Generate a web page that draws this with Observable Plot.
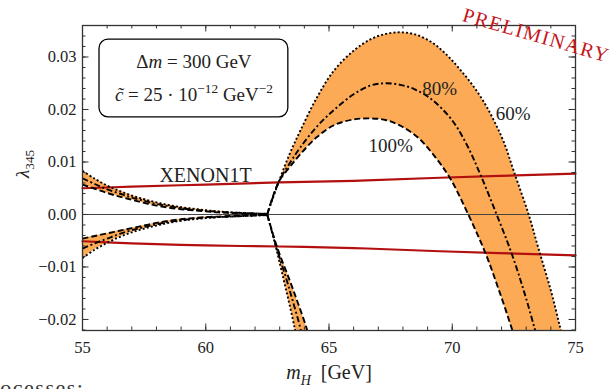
<!DOCTYPE html>
<html>
<head>
<meta charset="utf-8">
<script src="https://cdn.jsdelivr.net/npm/d3@7"></script>
<script src="https://cdn.jsdelivr.net/npm/@observablehq/plot@0.6"></script>
<style>
  html, body { margin: 0; padding: 0; background: #fff; overflow: hidden; width: 615px; height: 389px; }
  #wrap { position: relative; width: 615px; height: 389px; overflow: hidden; }
  #wrap svg { display: block; }
  #wrap svg text { font-family: "Liberation Serif", "Times New Roman", serif; }
  #note { position: absolute; left: -21px; top: 377px; font: 22px/1 "Liberation Serif", "Times New Roman", serif; letter-spacing: 1.5px; color: #333; white-space: nowrap; }
</style>
</head>
<body>
<div id="wrap"><div id="note">processes:</div></div>
<script>
// Left branches (m_H below m_h/2): shared mass grid, upper (+) and lower (−) solutions
const xLeft    = [55, 55.5, 56, 56.5, 57, 57.5, 58, 58.5, 59, 59.5, 60, 60.5, 61, 61.5, 62, 62.5];
const upper60  = [0.0083, 0.0068, 0.0055, 0.0045, 0.0036, 0.0029, 0.0023, 0.0018, 0.0014, 0.0011, 0.0008, 0.0006, 0.0004, 0.0003, 0.0002, 0.0001];
const upper80  = [0.0069, 0.0058, 0.0048, 0.0040, 0.0032, 0.0026, 0.0020, 0.0016, 0.0012, 0.0009, 0.0007, 0.0005, 0.0004, 0.0003, 0.0002, 0.0001];
const upper100 = [0.0057, 0.0049, 0.0041, 0.0034, 0.0028, 0.0022, 0.0017, 0.0013, 0.0010, 0.0008, 0.0006, 0.0004, 0.0003, 0.0002, 0.0001, 0.0001];
const lower60  = [-0.0083, -0.0067, -0.0054, -0.0043, -0.0034, -0.0027, -0.0021, -0.0016, -0.0012, -0.0009, -0.0007, -0.0005, -0.0004, -0.0003, -0.0002, -0.0001];
const lower80  = [-0.0065, -0.0055, -0.0046, -0.0037, -0.0030, -0.0024, -0.0019, -0.0014, -0.0011, -0.0008, -0.0006, -0.0005, -0.0004, -0.0003, -0.0002, -0.0001];
const lower100 = [-0.0046, -0.0041, -0.0036, -0.0031, -0.0026, -0.0021, -0.0016, -0.0012, -0.0009, -0.0007, -0.0005, -0.0004, -0.0003, -0.0002, -0.0001, -0.0001];

// Rising branch above m_h/2
const hump60X  = [62.5, 62.96, 63.4, 63.84, 64.5, 65.2, 66.0, 66.7, 67.3, 67.9, 68.5, 69.2, 69.8, 70.3, 70.8, 71.3, 71.7, 72.1, 72.5, 73.1, 73.5, 74.0, 74.35, 74.6];
const hump60Y  = [0.0001, 0.0062, 0.0115, 0.0160, 0.0222, 0.0274, 0.0312, 0.0334, 0.0344, 0.0347, 0.0343, 0.0327, 0.0303, 0.0277, 0.0248, 0.0213, 0.0178, 0.0137, 0.0082, 0.0000, -0.0065, -0.0145, -0.0210, -0.0258];
const hump80X  = [62.5, 62.96, 63.4, 63.84, 64.5, 65.2, 66.0, 66.7, 67.3, 67.9, 68.5, 69.2, 70.0, 70.6, 71.15, 71.8, 72.4, 72.9, 73.3, 73.5];
const hump80Y  = [0.0001, 0.0062, 0.0097, 0.0128, 0.0167, 0.0199, 0.0229, 0.0246, 0.0250, 0.0247, 0.0238, 0.0218, 0.0179, 0.0132, 0.0075, 0.0000, -0.0073, -0.0145, -0.0210, -0.0245];
const hump100X = [62.5, 62.96, 63.4, 63.84, 64.5, 65.2, 66.0, 66.7, 67.3, 67.9, 68.6, 69.25, 69.9, 70.65, 71.35, 71.9, 72.4, 72.6];
const hump100Y = [0.0001, 0.0062, 0.0090, 0.0115, 0.0147, 0.0170, 0.0181, 0.0183, 0.0180, 0.0169, 0.0147, 0.0113, 0.0070, 0.0000, -0.0074, -0.0145, -0.0215, -0.0245];

// Falling branch above m_h/2
const drop60X  = [62.5, 62.85, 63.17, 63.4, 63.6, 63.72];
const drop60Y  = [-0.0001, -0.0063, -0.0126, -0.0172, -0.0215, -0.0245];
const drop80X  = [62.5, 62.87, 63.29, 63.55, 63.83, 63.95];
const drop80Y  = [-0.0001, -0.0063, -0.0126, -0.0168, -0.0215, -0.0240];
const drop100X = [62.5, 62.9, 63.41, 63.75, 64.08, 64.22];
const drop100Y = [-0.0001, -0.0063, -0.0126, -0.0170, -0.0215, -0.0240];

// XENON1T direct-detection bounds
const xenonX     = [55, 57, 60, 63, 66, 69.5, 75];
const xenonUpper = [0.0050, 0.0053, 0.0057, 0.0061, 0.0064, 0.0070, 0.0078];
const xenonLower = [-0.0051, -0.0055, -0.0059, -0.0061, -0.0064, -0.0070, -0.0078];

// Axes
const xTicks = [55, 60, 65, 70, 75];
const yTicks = [-0.02, -0.01, 0, 0.01, 0.02, 0.03];
const xDomain = [55, 75];
const yDomain = [-0.0221, 0.036];

const serif = '"Liberation Serif", "Times New Roman", serif';
const band = "#fcaa56";
const xenon = "#b30f0f";
const ink = "#222";

const xMinor = d3.range(55, 75.01, 1);
const yMinor = d3.range(-22, 37, 2).map(v => v / 1000);

// Filled polygon: first curve forward, second curve back
const ring = (ax, ay, bx, by) => [
  ...ax.map((x, i) => ({x, y: ay[i]})),
  ...bx.map((x, i) => ({x, y: by[i]})).reverse()
];

const curves = [
  {dash: "2,2.2", left: [upper60, lower60], hump: [hump60X, hump60Y], drop: [drop60X, drop60Y]},
  {dash: "6,2.6,2,2.6", left: [upper80, lower80], hump: [hump80X, hump80Y], drop: [drop80X, drop80Y]},
  {dash: "6,3", left: [upper100, lower100], hump: [hump100X, hump100Y], drop: [drop100X, drop100Y]}
];

const curveMarks = curves.flatMap(c => {
  const o = {stroke: "black", strokeWidth: 1.9, strokeDasharray: c.dash, strokeLinecap: "butt", curve: "catmull-rom", clip: true};
  return [
    Plot.line(xLeft, {x: xLeft, y: c.left[0], ...o}),
    Plot.line(xLeft, {x: xLeft, y: c.left[1], ...o}),
    Plot.line(c.hump[0], {x: c.hump[0], y: c.hump[1], ...o}),
    Plot.line(c.drop[0], {x: c.drop[0], y: c.drop[1], ...o})
  ];
});

const tick = {stroke: "#333", strokeWidth: 1};

const chart = Plot.plot({
  width: 615,
  height: 389,
  marginLeft: 82,
  marginRight: 40,
  marginTop: 25,
  marginBottom: 59,
  x: {domain: xDomain},
  y: {domain: yDomain},
  style: {fontFamily: serif, fontSize: "16px", color: ink, background: "white", overflow: "visible"},
  marks: [
    // shaded bands between the 60% and 100% curves
    Plot.areaY(xLeft, {x: xLeft, y1: upper60, y2: upper100, fill: band, curve: "catmull-rom", clip: true}),
    Plot.areaY(xLeft, {x: xLeft, y1: lower60, y2: lower100, fill: band, curve: "catmull-rom", clip: true}),
    Plot.line(ring(hump60X, hump60Y, hump100X, hump100Y), {x: "x", y: "y", fill: band, stroke: "none", curve: "catmull-rom", clip: true}),
    Plot.line(ring(drop60X, drop60Y, drop100X, drop100Y), {x: "x", y: "y", fill: band, stroke: "none", curve: "catmull-rom", clip: true}),
    Plot.ruleY([0], {stroke: "#444", strokeWidth: 1}),
    Plot.line(xenonX, {x: xenonX, y: xenonUpper, stroke: xenon, strokeWidth: 2.2, curve: "catmull-rom"}),
    Plot.line(xenonX, {x: xenonX, y: xenonLower, stroke: xenon, strokeWidth: 2.2, curve: "catmull-rom"}),
    ...curveMarks,
    // inward ticks on all four sides
    Plot.ruleX(xMinor, {x: d => d, y1: yDomain[0], y2: yDomain[0], insetBottom: 3.5, ...tick}),
    Plot.ruleX(xTicks, {x: d => d, y1: yDomain[0], y2: yDomain[0], insetBottom: 6.5, ...tick}),
    Plot.ruleX(xMinor, {x: d => d, y1: yDomain[1], y2: yDomain[1], insetTop: 3.5, ...tick}),
    Plot.ruleX(xTicks, {x: d => d, y1: yDomain[1], y2: yDomain[1], insetTop: 6.5, ...tick}),
    Plot.ruleY(yMinor, {y: d => d, x1: xDomain[0], x2: xDomain[0], insetLeft: 3.5, ...tick}),
    Plot.ruleY(yTicks, {y: d => d, x1: xDomain[0], x2: xDomain[0], insetLeft: 6.5, ...tick}),
    Plot.ruleY(yMinor, {y: d => d, x1: xDomain[1], x2: xDomain[1], insetRight: 3.5, ...tick}),
    Plot.ruleY(yTicks, {y: d => d, x1: xDomain[1], x2: xDomain[1], insetRight: 6.5, ...tick}),
    Plot.frame({stroke: "#333", strokeWidth: 1.3}),
    Plot.axisX({ticks: xTicks, tickSize: 0, tickPadding: 11, tickFormat: d => String(d), label: null, fontSize: 16.5}),
    Plot.axisY({ticks: yTicks, tickSize: 0, tickPadding: 6, tickFormat: d3.format(".2f"), label: null, fontSize: 16.5}),
    // axis titles
    Plot.text(["λ345"], {frameAnchor: "left", dx: -60, rotate: -90, fontSize: 19}),
    Plot.text(["mH [GeV]"], {frameAnchor: "bottom", dy: 48, fontSize: 20}),
    // parameter box
    Plot.rect([0], {x1: 55.69, x2: 63.35, y1: 0.0185, y2: 0.0333, rx: 9, fill: "white", stroke: "black", strokeWidth: 1.3}),
    Plot.text(["Δm = 300 GeV"], {x: 59.52, y: 0.0291, fontSize: 19}),
    Plot.text(["c̃ = 25 · 10−12 GeV−2"], {x: 59.52, y: 0.0228, fontSize: 19}),
    // curve labels
    Plot.text(["XENON1T"], {x: 59.99, y: 0.0075, fontSize: 20}),
    Plot.text(["80%"], {x: 69.49, y: 0.0239, fontSize: 19}),
    Plot.text(["60%"], {x: 72.47, y: 0.0191, fontSize: 19}),
    Plot.text(["100%"], {x: 67.5, y: 0.0130, fontSize: 19}),
    Plot.text(["PRELIMINARY"], {x: 73.41, y: 0.0341, rotate: 16, fontSize: 20, fill: "#c4161c"})
  ]
});

document.getElementById("wrap").prepend(chart);

// Math-style typesetting: italics, subscripts and superscripts as tspans
const svgNS = "http://www.w3.org/2000/svg";
function typeset(match, parts, base) {
  chart.querySelectorAll("text").forEach(node => {
    if (node.textContent !== match) return;
    node.textContent = "";
    let shift = 0;
    for (const p of parts) {
      const t = document.createElementNS(svgNS, "tspan");
      t.textContent = p.t;
      if (p.i) t.setAttribute("font-style", "italic");
      const target = p.sub ? base * 0.3 : p.sup ? -base * 0.42 : 0;
      if (p.sub || p.sup) t.setAttribute("font-size", base * 0.7);
      if (target !== shift) { t.setAttribute("dy", target - shift); shift = target; }
      node.appendChild(t);
    }
  });
}
typeset("λ345", [{t: "λ", i: true}, {t: "345", sub: true}], 19);
typeset("mH [GeV]", [{t: "m", i: true}, {t: "H", i: true, sub: true}, {t: "  [GeV]"}], 20);
typeset("Δm = 300 GeV", [{t: "Δ"}, {t: "m", i: true}, {t: " = 300 GeV"}], 19);
typeset("c̃ = 25 · 10−12 GeV−2", [{t: "c̃", i: true}, {t: " = 25 · 10"}, {t: "−12", sup: true}, {t: " GeV"}, {t: "−2", sup: true}], 19);
chart.querySelectorAll("text").forEach(n => { if (n.textContent === "PRELIMINARY") n.setAttribute("letter-spacing", "1.5"); });
</script>
</body>
</html>
